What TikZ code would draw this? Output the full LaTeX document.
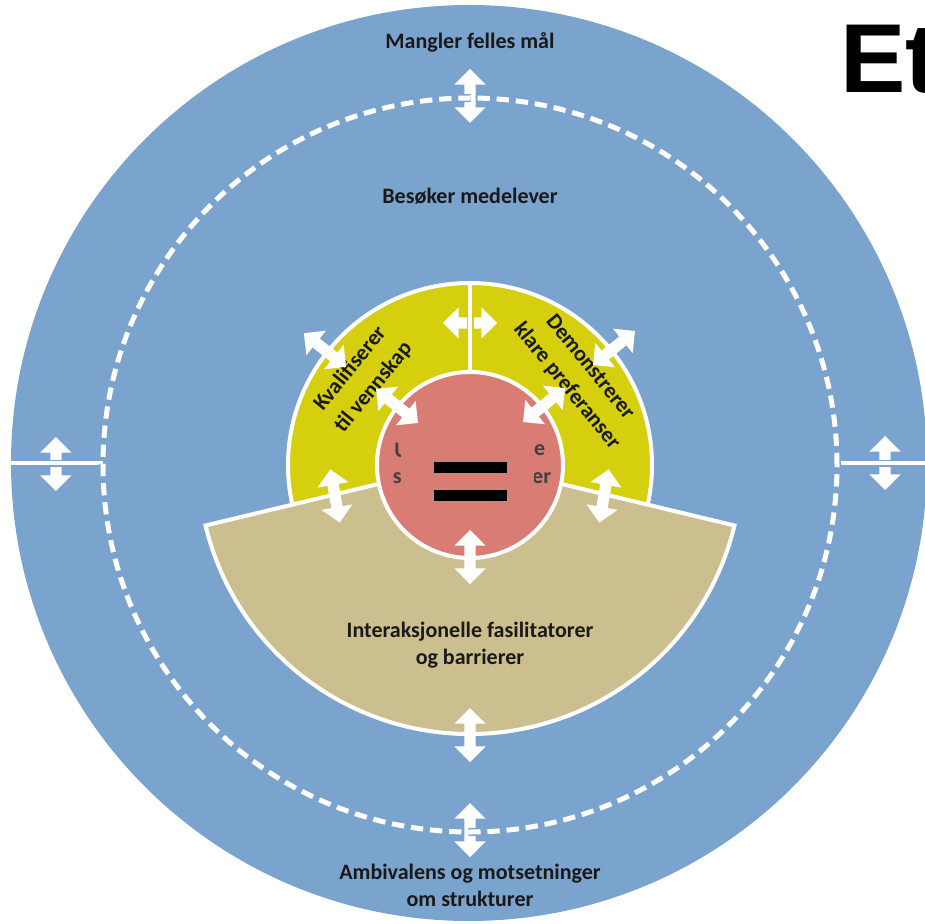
\documentclass[tikz,border=0pt]{standalone}
\usepackage{fontspec}
\setmainfont{Carlito}
\newfontfamily\headfont{Liberation Sans}
\usetikzlibrary{shapes.arrows}
\definecolor{ringblue}{RGB}{122,163,206}
\definecolor{coreyellow}{RGB}{213,207,14}
\definecolor{coretan}{RGB}{204,191,143}
\definecolor{corered}{RGB}{216,124,116}

\begin{document}
\begin{tikzpicture}[
    x=1pt, y=1pt,
    lbl/.style={font=\fontsize{22}{27}\selectfont\bfseries, align=center, inner sep=0pt, text=black!90},
    arclbl/.style={lbl, font=\fontsize{22}{30}\selectfont\bfseries},
    frag/.style={font=\fontsize{22}{27}\selectfont\bfseries, inner sep=0pt, text=black!75},
    dblarrow/.style={double arrow, fill=white, draw=none, inner sep=5.5pt, minimum width=0pt, minimum height=54pt, double arrow head extend=10pt},
    bar/.style={fill=black, minimum width=73pt, minimum height=11pt, inner sep=0pt},
    rim/.style={draw=white, line width=4pt},
    dashring/.style={line width=5pt, dash pattern=on 12.2pt off 7pt}
]
\useasboundingbox (-470,-458) rectangle (455,465);
\begin{scope}
  \clip (-470,-458) rectangle (455,465);
  \node[font=\headfont\fontsize{98}{98}\selectfont\bfseries, anchor=base west, inner sep=0pt] (title) at (370,372) {Et};
  \fill[ringblue] (-1,2) circle[radius=458];
\end{scope}

% outer ring lines
\draw[rim, dashring] (0,0) circle[radius=367];
\draw[rim] (-470,2) -- (-367,2);
\draw[rim] (367,2) -- (455,2);

% core
\filldraw[fill=coreyellow, rim] (0,0) circle[radius=182];
\filldraw[fill=coretan, rim] (0,3) -- ++(193.5:272) arc[start angle=193.5, end angle=346.5, radius=272] -- cycle;
\filldraw[fill=corered, rim] (0,0) circle[radius=93];
\draw[rim] (0,182) -- (0,93);

% labels
\node[lbl] (goal) at (0,423) {Mangler felles mål};
\node[lbl] (visit) at (0,269) {Besøker medelever};
\node[lbl] (inter) at (0,-180) {Interaksjonelle fasilitatorer\\og barrierer};
\node[lbl] (ambi) at (0,-420) {Ambivalens og motsetninger\\om strukturer};
\node[arclbl, rotate=51] (qualify) at (-108,87) {Kvalifiserer\\til vennskap};
\node[arclbl, rotate=-51] (demo) at (108,88) {Demonstrerer\\klare preferanser};

% centre with equal sign
\node[frag, anchor=east] (coreLa) at (-61,15) {U};
\node[frag, anchor=west] (coreRa) at (64,15) {e};
\node[frag, anchor=east] (coreLb) at (-59,-13) {sc};
\node[frag, anchor=west] (coreRb) at (62,-13) {er};
\node[fill=corered, minimum width=133pt, minimum height=52pt, inner sep=0pt] (cover) at (-2.5,2) {};
\node[bar] (eqtop) at (0.5,-2.5) {};
\node[bar] (eqbot) at (0.5,-30.5) {};

% double arrows
\node[dblarrow, rotate=90] (arrTop) at (0,369) {};
\node[dblarrow, rotate=90] (arrBot) at (0,-365) {};
\node[dblarrow, rotate=90] (arrTan) at (0,-270) {};
\node[dblarrow, rotate=90] (arrLeft) at (-414,1) {};
\node[dblarrow, rotate=90] (arrRight) at (415,2) {};
\node[dblarrow, rotate=90] (arrRed) at (0,-92) {};
\node[dblarrow] (arrMid) at (0,142) {};
\node[dblarrow, rotate=141.5] (arrOutL) at (-145,115) {};
\node[dblarrow, rotate=39] (arrOutR) at (144,117) {};
\node[dblarrow, rotate=141] (arrInL) at (-73,59) {};
\node[dblarrow, rotate=39] (arrInR) at (74,60) {};
\node[dblarrow, rotate=100] (arrLowL) at (-135,-31) {};
\node[dblarrow, rotate=80] (arrLowR) at (134,-31) {};

% lines running across the arrows
\draw[ringblue, dashring, line width=8pt] (0,0) circle[radius=367];
\draw[rim, dashring] (0,0) circle[radius=367];
\draw[ringblue, line width=7pt] (-440,2) -- (-388,2);
\draw[rim] (-440,2) -- (-388,2);
\draw[ringblue, line width=7pt] (389,2) -- (441,2);
\draw[rim] (389,2) -- (441,2);
\draw[coreyellow, line width=7pt] (0,130) -- (0,155);
\draw[rim] (0,130) -- (0,155);
\end{tikzpicture}
\end{document}
